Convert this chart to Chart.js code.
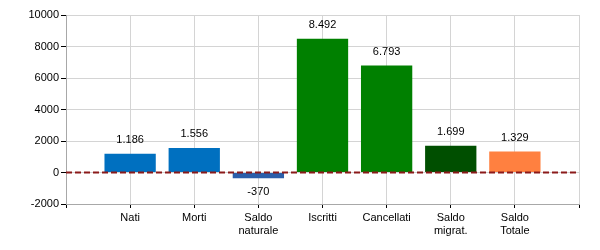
<!DOCTYPE html>
<html>
<head>
<meta charset="utf-8">
<script src="https://cdn.jsdelivr.net/npm/chart.js@4/dist/chart.umd.min.js"></script>
<style>
  html, body { margin: 0; padding: 0; background: #fff; }
  #wrap { width: 600px; height: 250px; }
</style>
</head>
<body>
<div id="wrap"><canvas id="c" width="600" height="250"></canvas></div>
<script>
// Data (empty first/last slots keep the axis padding of the original)
const labels = ['', 'Nati', 'Morti', ['Saldo', 'naturale'], 'Iscritti', 'Cancellati', ['Saldo', 'migrat.'], ['Saldo', 'Totale'], ''];
const values = [null, 1186, 1556, -370, 8492, 6793, 1699, 1329, null];
const barColors = ['#fff', '#0070C0', '#0070C0', '#2B5EAA', '#008000', '#008000', '#004F00', '#FF8040', '#fff'];
const zeroLine = [0, 0, 0, 0, 0, 0, 0, 0, 0];
const yMin = -2000, yMax = 10000, yStep = 2000;

const FONT = "'Liberation Sans', Arial, sans-serif";

function fmtIt(n) {
  const s = String(Math.abs(n)).replace(/\B(?=(\d{3})+(?!\d))/g, '.');
  return (n < 0 ? '-' : '') + s;
}

// value labels above/below bars
const valueLabels = {
  id: 'valueLabels',
  afterDatasetsDraw(chart) {
    const meta = chart.getDatasetMeta(0);
    const ctx = chart.ctx;
    ctx.save();
    ctx.font = '11px ' + FONT;
    ctx.fillStyle = '#000';
    ctx.textAlign = 'center';
    ctx.textBaseline = 'middle';
    meta.data.forEach(function(el, i) {
      const v = values[i];
      if (v === null) return;
      const y = v >= 0 ? el.y - 14 : el.y + 14;
      ctx.fillText(fmtIt(v), el.x, y);
    });
    ctx.restore();
  }
};

new Chart(document.getElementById('c'), {
  type: 'bar',
  data: {
    labels,
    datasets: [
      { type: 'bar', data: values, backgroundColor: barColors, barPercentage: 0.8, categoryPercentage: 1, order: 2 },
      { type: 'line', data: zeroLine, borderColor: '#8B1A1A', borderWidth: 2, borderDash: [6, 3], pointRadius: 0, fill: false, order: 1 }
    ]
  },
  options: {
    responsive: false,
    animation: false,
    layout: { padding: { left: 0, right: 21, top: 15, bottom: 0 } },
    plugins: { legend: { display: false }, tooltip: { enabled: false } },
    scales: {
      x: {
        offset: false,
        grid: { offset: false, color: '#d4d4d4', tickColor: '#000', tickLength: 4 },
        border: { color: '#a8a8a8' },
        ticks: { color: '#000', font: { family: FONT, size: 11, lineHeight: 1.2 }, maxRotation: 0, autoSkip: false, padding: 3 },
        afterFit(s) { s.height = 46; }
      },
      y: {
        min: yMin, max: yMax,
        grid: { color: '#d4d4d4', tickColor: '#000', tickLength: 5 },
        border: { color: '#a8a8a8' },
        ticks: { stepSize: yStep, color: '#000', font: { family: FONT, size: 11 }, padding: 2, callback: v => String(v) },
        afterFit(s) { s.width = 66; }
      }
    }
  },
  plugins: [valueLabels]
});
</script>
</body>
</html>
